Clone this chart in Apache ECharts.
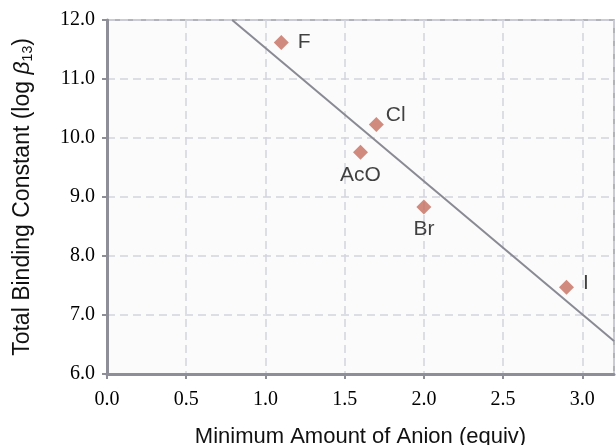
<!DOCTYPE html>
<html><head><meta charset="utf-8">
<script src="https://cdn.jsdelivr.net/npm/echarts@6/dist/echarts.min.js"></script>
<style>html,body{margin:0;padding:0;background:#fff}#c{width:616px;height:445px}</style>
</head><body><div id="c"></div>
<script>
const anions = ['F', 'Cl', 'AcO', 'Br', 'I'];
const minAmount = [1.1, 1.7, 1.6, 2.0, 2.9];
const logBeta = [11.62, 10.23, 9.76, 8.83, 7.47];
const labelPos = ['right', 'right', 'bottom', 'bottom', 'right'];
const labelDist = [9, 2, 5, 4, 9];
const labelOffset = [[0, 0], [0, -9], [0, 0], [0, 0], [0, -4]];
const fitX = [0.79, 3.2];
const fitY = [12.0, 6.56];

const chart = echarts.init(document.getElementById('c'));
chart.setOption({
  backgroundColor: '#fff',
  animation: false,
  grid: { left: 107, right: 2, top: 20, bottom: 71, containLabel: false, outerBoundsMode: 'none',
    show: true, backgroundColor: '#fbfbfc', borderColor: '#9a9aa4', borderWidth: 1.5 },
  xAxis: {
    type: 'value', min: 0, max: 3.2, interval: 0.5,
    name: 'Minimum Amount of Anion (equiv)', nameLocation: 'middle', nameGap: 52,
    nameTextStyle: { fontFamily: 'Liberation Sans', fontSize: 22, color: '#111' },
    axisLine: { show: true, lineStyle: { color: '#8e8e98', width: 3 } },
    axisTick: { show: true, length: 5, lineStyle: { color: '#8e8e98', width: 2 } },
    axisLabel: { fontFamily: 'Liberation Serif', fontSize: 20, color: '#000', margin: 16,
      formatter: v => v.toFixed(1), showMaxLabel: false },
    splitLine: { show: true, lineStyle: { color: '#d4d4de', type: [8, 5], width: 1.5 } }
  },
  yAxis: {
    type: 'value', min: 6, max: 12, interval: 1,
    name: '{n|Total Binding Constant (log }{b|β}{s|13}{n|)}', nameLocation: 'middle', nameGap: 72, nameRotate: 90,
    nameTextStyle: { rich: {
      n: { fontFamily: 'Liberation Sans', fontSize: 23, color: '#111' },
      b: { fontFamily: 'Liberation Sans', fontSize: 23, fontStyle: 'italic', color: '#111' },
      s: { fontFamily: 'Liberation Sans', fontSize: 14, color: '#111', verticalAlign: 'bottom', padding: [10, 0, 0, 0] }
    } },
    axisLine: { show: true, lineStyle: { color: '#8e8e98', width: 3 } },
    axisTick: { show: true, length: 5, lineStyle: { color: '#8e8e98', width: 2 } },
    axisLabel: { fontFamily: 'Liberation Serif', fontSize: 20, color: '#000', margin: 12,
      formatter: v => v.toFixed(1) },
    splitLine: { show: true, lineStyle: { color: '#d4d4de', type: [8, 5], width: 1.5 } }
  },
  series: [
    {
      type: 'line', data: fitX.map((x, i) => [x, fitY[i]]), symbol: 'none',
      lineStyle: { color: '#8a8a94', width: 2 }, z: 2
    },
    {
      type: 'scatter', symbol: 'diamond', symbolSize: 15,
      itemStyle: { color: '#c66e5e' },
      data: anions.map((a, i) => ({ value: [minAmount[i], logBeta[i]], name: a,
        label: { show: true, position: labelPos[i], formatter: a, distance: labelDist[i], offset: labelOffset[i],
          fontFamily: 'Liberation Sans', fontSize: 21, color: '#111' } })),
      z: 3
    }
  ]
});
</script></body></html>
